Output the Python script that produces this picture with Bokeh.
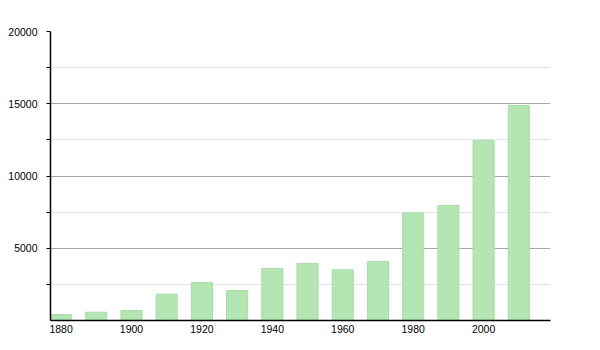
from bokeh.plotting import figure
from bokeh.models import FixedTicker, Range1d, ColumnDataSource
from bokeh.embed import file_html
from bokeh.resources import INLINE

years = [1880, 1890, 1900, 1910, 1920, 1930, 1940, 1950, 1960, 1970, 1980, 1990, 2000, 2010]
population = [415, 575, 690, 1820, 2630, 2080, 3600, 3945, 3510, 4085, 7450, 7960, 12460, 14880]
x_ticks = [1880, 1900, 1920, 1940, 1960, 1980, 2000]
y_ticks = [5000, 10000, 15000, 20000]
y_minor = [2500, 7500, 12500, 17500]

src = ColumnDataSource(dict(year=years, pop=population))

p = figure(width=600, height=350, output_backend="svg", toolbar_location=None,
           x_range=Range1d(1877, 2019), y_range=Range1d(0, 20000),
           min_border_left=50, min_border_right=50, min_border_top=31, min_border_bottom=30)
p.outline_line_color = None
p.background_fill_color = "white"
p.border_fill_color = "white"

p.vbar(x="year", top="pop", width=6, source=src,
       fill_color="#b3e6b3", line_color="#aadcaa", line_width=1)

font = "Liberation Sans"
p.xaxis.ticker = FixedTicker(ticks=x_ticks)
p.xaxis.axis_line_color = "black"
p.xaxis.axis_line_width = 1.5
p.xaxis.major_tick_line_color = None
p.xaxis.minor_tick_line_color = None
p.xaxis.major_tick_out = 0
p.xaxis.major_label_standoff = 4
p.xaxis.major_label_text_font = font
p.xaxis.major_label_text_font_size = "10.5px"
p.xaxis.major_label_text_color = "black"

p.yaxis.ticker = FixedTicker(ticks=y_ticks, minor_ticks=y_minor)
p.yaxis.axis_line_color = "black"
p.yaxis.axis_line_width = 1.5
p.yaxis.major_tick_line_color = "black"
p.yaxis.minor_tick_line_color = "black"
p.yaxis.major_tick_out = 4
p.yaxis.major_tick_in = 0
p.yaxis.minor_tick_out = 4
p.yaxis.minor_tick_in = 0
p.yaxis.major_label_standoff = 9
p.yaxis.major_label_text_font = font
p.yaxis.major_label_text_font_size = "10.5px"
p.yaxis.major_label_text_color = "black"

p.xgrid.grid_line_color = None
p.ygrid.grid_line_color = "#a6a6a6"
p.ygrid.grid_line_width = 1
p.ygrid.minor_grid_line_color = "#e3e3e3"
p.ygrid.minor_grid_line_width = 1

open("out.html", "w").write(file_html(p, INLINE))
